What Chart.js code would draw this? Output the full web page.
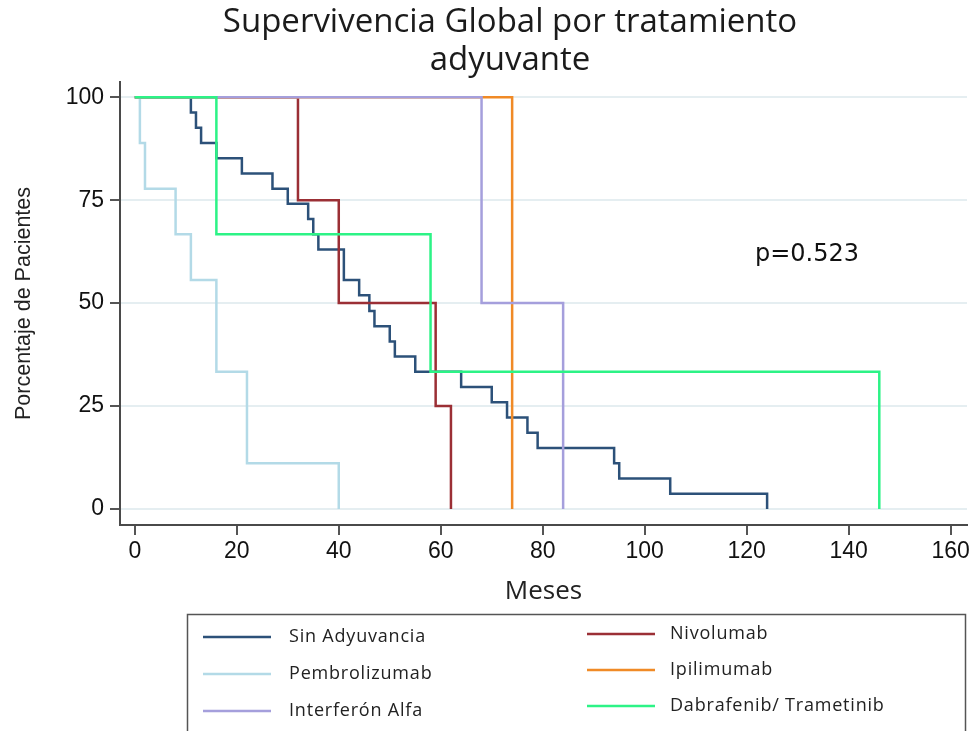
<!DOCTYPE html>
<html>
<head>
<meta charset="utf-8">
<script src="https://cdn.jsdelivr.net/npm/chart.js@4.4.1/dist/chart.umd.min.js"></script>
<style>
  html, body { margin: 0; padding: 0; background: #fff; }
  #wrap { width: 974px; height: 731px; position: relative; }
</style>
</head>
<body>
<div id="wrap"><canvas id="kmChart"></canvas></div>
<script>
// Kaplan-Meier steps (months, % of patients)
const sinAdyTimes = [0, 11, 12, 13, 16, 21, 27, 30, 34, 35, 36, 41, 44, 46, 47, 50, 51, 55, 64, 70, 73, 77, 79, 94, 95, 105, 124];
const sinAdySurv  = [100, 96.3, 92.6, 88.9, 85.2, 81.5, 77.8, 74.1, 70.4, 66.7, 63.0, 55.6, 51.9, 48.1, 44.4, 40.7, 37.0, 33.3, 29.6, 25.9, 22.2, 18.5, 14.8, 11.1, 7.4, 3.7, 0];

const pembroTimes = [0, 1, 2, 8, 11, 16, 22, 40];
const pembroSurv  = [100, 88.9, 77.8, 66.7, 55.6, 33.3, 11.1, 0];

const interfTimes = [0, 68, 84];
const interfSurv  = [100, 50, 0];

const nivoTimes = [0, 32, 40, 59, 62];
const nivoSurv  = [100, 75, 50, 25, 0];

const ipiTimes = [0, 74];
const ipiSurv  = [100, 0];

const dabraTimes = [0, 16, 58, 146];
const dabraSurv  = [100, 66.7, 33.3, 0];

const seriesNames = ['Sin Adyuvancia', 'Pembrolizumab', 'Interferón Alfa', 'Nivolumab', 'Ipilimumab', 'Dabrafenib/ Trametinib'];
const seriesColors = ['#2c5179', '#b3dae7', '#a59fdc', '#9b2f35', '#f08a26', '#2cf386'];
const seriesTimes = [sinAdyTimes, pembroTimes, interfTimes, nivoTimes, ipiTimes, dabraTimes];
const seriesSurv = [sinAdySurv, pembroSurv, interfSurv, nivoSurv, ipiSurv, dabraSurv];
// which curve sits on top (lower = drawn later)
const seriesOrder = [5, 4, 1, 3, 2, 0];

const xTicks = [0, 20, 40, 60, 80, 100, 120, 140, 160];
const yTicks = [0, 25, 50, 75, 100];

const titleLines = ['Supervivencia Global por tratamiento', 'adyuvante'];
const pValueText = 'p=0.523';

// Title, p-value and the boxed two-column legend
const annotations = {
    id: 'annotations',
    afterDraw(chart) {
        const ctx = chart.ctx;
        ctx.save();

        ctx.fillStyle = '#1b1b1b';
        ctx.font = '33px "Open Sans"';
        ctx.textAlign = 'center';
        ctx.textBaseline = 'middle';
        ctx.fillText(titleLines[0], 510, 23);
        ctx.fillText(titleLines[1], 510, 61);

        ctx.font = '24px "DejaVu Sans"';
        ctx.textAlign = 'left';
        ctx.fillStyle = '#111';
        ctx.fillText(pValueText, 755, 255);

        // legend box
        ctx.strokeStyle = '#555';
        ctx.lineWidth = 1.5;
        ctx.strokeRect(187.5, 614.5, 778, 140);

        ctx.font = '18px "Open Sans"';
        ctx.letterSpacing = '0.8px';
        ctx.fillStyle = '#222';
        chart.data.datasets.forEach((ds, i) => {
            const col = Math.floor(i / 3);
            const row = i % 3;
            const lx = col === 0 ? 203 : 587;
            const tx = col === 0 ? 289 : 670;
            const y = col === 0 ? 637 + row * 37 : 634 + row * 36;
            ctx.strokeStyle = ds.borderColor;
            ctx.lineWidth = 2.5;
            ctx.beginPath();
            ctx.moveTo(lx, y);
            ctx.lineTo(lx + 68, y);
            ctx.stroke();
            ctx.fillText(ds.label, tx, y);
        });
        ctx.restore();
    }
};

const ctx = document.getElementById('kmChart').getContext('2d');

new Chart(ctx, {
    type: 'line',
    data: {
        datasets: seriesNames.map((name, i) => ({
            label: name,
            data: seriesTimes[i].map((t, k) => ({ x: t, y: seriesSurv[i][k] })),
            borderColor: seriesColors[i],
            borderWidth: 2.5,
            stepped: 'before',
            pointRadius: 0,
            fill: false,
            order: seriesOrder[i]
        }))
    },
    options: {
        responsive: true,
        maintainAspectRatio: false,
        devicePixelRatio: 1,
        animation: false,
        layout: { padding: { top: 82, right: 7, left: 0, bottom: 0 } },
        plugins: {
            legend: { display: false },
            title: { display: false },
            tooltip: { enabled: false }
        },
        scales: {
            x: {
                type: 'linear',
                min: -2.9,
                max: 163.2,
                afterBuildTicks: scale => { scale.ticks = xTicks.map(v => ({ value: v })); },
                afterFit: scale => { scale.height = 206; },
                grid: {
                    drawOnChartArea: false,
                    tickLength: 10,
                    tickColor: '#555',
                    lineWidth: 2
                },
                border: { color: '#4a4a4a', width: 2 },
                ticks: {
                    font: { family: 'Liberation Sans', size: 23 },
                    color: '#111',
                    padding: 3,
                    maxRotation: 0
                },
                title: {
                    display: true,
                    text: 'Meses',
                    font: { family: 'Open Sans', size: 26 },
                    color: '#222',
                    padding: { top: 0, bottom: 124 }
                }
            },
            y: {
                min: -3.9,
                max: 103.7,
                afterBuildTicks: scale => { scale.ticks = yTicks.map(v => ({ value: v })); },
                afterFit: scale => { scale.width = 120; },
                grid: {
                    color: '#e5eef1',
                    lineWidth: 2,
                    tickLength: 10,
                    tickColor: '#555'
                },
                border: { color: '#4a4a4a', width: 2 },
                ticks: {
                    font: { family: 'Liberation Sans', size: 23 },
                    color: '#111',
                    padding: 6
                },
                title: {
                    display: true,
                    text: 'Porcentaje de Pacientes',
                    font: { family: 'Liberation Sans', size: 21.5 },
                    color: '#222',
                    padding: { top: 11, bottom: 0 }
                }
            }
        }
    },
    plugins: [annotations]
});
</script>
</body>
</html>
